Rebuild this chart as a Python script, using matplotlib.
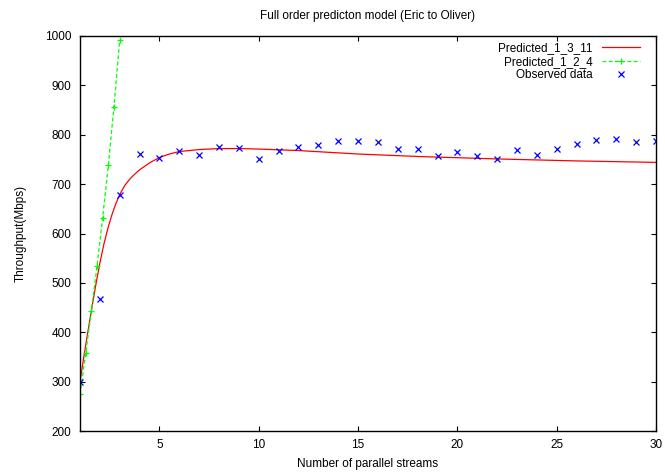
import matplotlib
matplotlib.use("Agg")
import matplotlib.pyplot as plt

plt.rcParams['font.family'] = ['Liberation Sans', 'DejaVu Sans']

# Observed throughput per number of parallel streams
obs_streams = list(range(1, 31))
obs_throughput = [300, 468, 677, 762, 753, 767, 759, 775, 773, 751,
                  767, 776, 780, 787, 787, 785, 771, 771, 757, 766,
                  757, 750, 770, 760, 772, 781, 790, 791, 785, 788]

# Model prediction fitted on streams 1, 3, 11
pred_1_3_11_x = [1.0, 1.2, 1.4, 1.6, 1.8, 2.0, 2.2, 2.4, 2.6, 2.8, 3.0,
                 3.25, 3.5, 3.75, 4.0, 4.5, 5.0, 5.5, 6, 7, 8, 9, 10,
                 12, 15, 18, 22, 26, 30]
pred_1_3_11_y = [300, 352, 402, 450, 497, 540, 578, 610, 637, 660, 679,
                 697, 710, 720, 729, 743, 754, 761, 766, 770, 772, 772, 771,
                 768, 761, 756, 751, 747, 744]

# Model prediction fitted on streams 1, 2, 4
pred_1_2_4_x = [1.0, 1.29, 1.57, 1.86, 2.14, 2.43, 2.71, 3.0]
pred_1_2_4_y = [274, 358, 443, 535, 632, 739, 857, 992]

x_ticks = [5, 10, 15, 20, 25, 30]
y_ticks = [200, 300, 400, 500, 600, 700, 800, 900, 1000]

fig = plt.figure(figsize=(6.65, 4.72), dpi=100)
ax = fig.add_axes([80 / 665, 41 / 472, 576 / 665, 395 / 472])

ax.plot(pred_1_3_11_x, pred_1_3_11_y, color='#ff0000', lw=0.9,
        label='Predicted_1_3_11')
ax.plot(pred_1_2_4_x, pred_1_2_4_y, color='#00ff00', lw=0.9,
        linestyle=(0, (3, 2)), marker='+', markersize=5, markeredgewidth=0.9,
        label='Predicted_1_2_4')
ax.plot(obs_streams, obs_throughput, linestyle='none', color='#0000ff',
        marker='x', markersize=4.5, markeredgewidth=0.9, label='Observed data')

ax.set_xlim(1, 30)
ax.set_ylim(200, 1000)
ax.set_xticks(x_ticks)
ax.set_yticks(y_ticks)
ax.tick_params(direction='in', length=3.5, width=0.8, labelsize=8.5,
               top=True, right=True, pad=6)
for s in ax.spines.values():
    s.set_linewidth(1.0)

ax.set_title('Full order predicton model (Eric to Oliver)', fontsize=8.5, pad=12)
ax.set_xlabel('Number of parallel streams', fontsize=8.5, labelpad=5)
ax.set_ylabel('Throughput(Mbps)', fontsize=8.5, labelpad=13)

leg = ax.legend(loc='upper right', bbox_to_anchor=(1 - 10 / 576, 1),
                frameon=False, markerfirst=False,
                fontsize=8.5, handlelength=3.2, handletextpad=0.8,
                labelspacing=0.15, borderaxespad=0.1)
for t in leg.get_texts():
    t.set_ha('right')

fig.savefig('out.png', dpi=100)
